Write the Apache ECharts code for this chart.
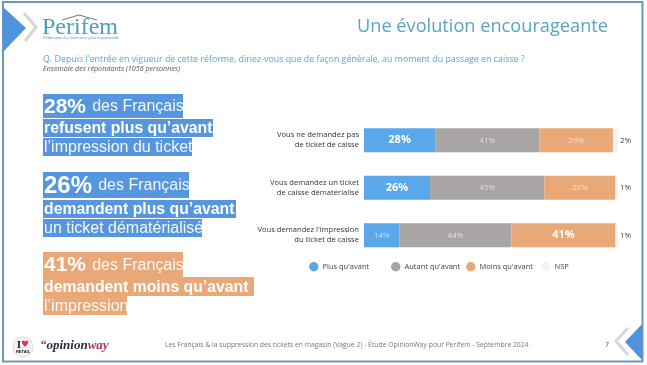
<!DOCTYPE html>
<html>
<head>
<meta charset="utf-8">
<style>
  html, body { margin: 0; padding: 0; background: #fff; }
  #chart { width: 647px; height: 365px; }
</style>
<script src="https://cdn.jsdelivr.net/npm/echarts@6/dist/echarts.min.js"></script>
</head>
<body>
<div id="chart"></div>
<script>
const categories = [
    'Vous ne demandez pas\nde ticket de caisse',
    'Vous demandez un ticket\nde caisse dématérialisé',
    "Vous demandez l'impression\ndu ticket de caisse"
];
const seriesNames = ["Plus qu'avant", "Autant qu'avant", "Moins qu'avant", 'NSP'];
const plusValues = [28, 26, 14];
const autantValues = [41, 45, 44];
const moinsValues = [29, 28, 41];
const nspValues = [2, 1, 1];
const highlighted = { "Plus qu'avant": [true, true, false], "Moins qu'avant": [false, false, true] };

const titleText = 'Une évolution encourageante';
const questionText = "Q. Depuis l'entrée en vigueur de cette réforme, diriez-vous que de façon générale, au moment du passage en caisse ?";
const baseText = 'Ensemble des répondants (1056 personnes)';
const footerText = 'Les Français & la suppression des tickets en magasin (Vague 2) - Étude OpinionWay pour Perifem - Septembre 2024';

const BLUE = '#5aa7ea';
const BLOCK_BLUE = '#5596de';
const GREY = '#a9a5a5';
const ORANGE = '#e9a877';
const NSP = '#f3f3f3';
const FONT = '"Open Sans", sans-serif';
const ARIAL = '"Liberation Sans", sans-serif';
const SERIF = '"Liberation Serif", serif';

const barData = (name, values, color) => values.map((v, i) => {
    const strong = highlighted[name] && highlighted[name][i];
    return {
        value: v,
        itemStyle: { color: color },
        label: strong
            ? { fontSize: 11, fontWeight: 'bold', color: '#fff' }
            : { fontSize: 8, color: 'rgba(255,255,255,0.65)' }
    };
});

const makeBar = (name, values, color) => ({
    name: name,
    type: 'bar',
    stack: 'total',
    barWidth: 24,
    itemStyle: { color: color },
    label: { show: true, position: 'inside', formatter: '{c}%', fontFamily: FONT },
    data: barData(name, values, color)
});

const nspSeries = {
    name: seriesNames[3],
    type: 'bar',
    stack: 'total',
    barWidth: 24,
    itemStyle: { color: NSP },
    label: {
        show: true, position: 'right', distance: 2, formatter: '{c}%',
        fontFamily: FONT, fontSize: 8, color: '#444'
    },
    data: nspValues
};

const makeLegend = (name, left) => ({
    data: [name],
    left: left,
    top: 262,
    padding: 0,
    icon: 'circle',
    itemWidth: 9.5,
    itemHeight: 9.5,
    itemGap: 0,
    selectedMode: false,
    textStyle: { fontFamily: FONT, fontSize: 7.5, color: '#444', padding: [0, 0, 0, -1] }
});

// left call-outs: one text element per highlighted line
const callout = (x, y, w, h, color, text, rich) => ({
    type: 'group',
    children: [
        { type: 'rect', shape: { x: x, y: y, width: w, height: h }, style: { fill: color } },
        {
            type: 'text',
            style: {
                x: x + 1, y: y + h / 2 + 1, text: text, rich: rich,
                verticalAlign: 'middle', fill: '#fff', fontFamily: ARIAL, fontSize: 15
            }
        }
    ]
});

const headRich = (size) => ({
    big: { fontFamily: ARIAL, fontSize: size, fontWeight: 'bold', fill: '#fff', color: '#fff' },
    small: { fontFamily: ARIAL, fontSize: 16, fill: 'rgba(255,255,255,0.92)', padding: [0, 0, 0, 2] }
});
const boldStyle = { b: { fontFamily: ARIAL, fontSize: 15.8, fontWeight: 'bold', fill: '#fff' } };
const normalStyle = { n: { fontFamily: ARIAL, fontSize: 16, fill: 'rgba(255,255,255,0.92)' } };

const chart = echarts.init(document.getElementById('chart'), null, { renderer: 'canvas' });
chart.setOption({
    animation: false,
    backgroundColor: '#fff',
    grid: { left: 364, top: 116.5, width: 254, height: 142.5 },
    xAxis: { type: 'value', min: 0, max: 100, show: false },
    yAxis: {
        type: 'category',
        inverse: true,
        data: categories,
        axisLine: { show: false },
        axisTick: { show: false },
        axisLabel: { fontFamily: FONT, fontSize: 7.6, color: '#333', align: 'right', margin: 5, lineHeight: 10 }
    },
    legend: [
        makeLegend(seriesNames[0], 309),
        makeLegend(seriesNames[1], 391),
        makeLegend(seriesNames[2], 466),
        makeLegend(seriesNames[3], 541)
    ],
    series: [
        makeBar(seriesNames[0], plusValues, BLUE),
        makeBar(seriesNames[1], autantValues, GREY),
        makeBar(seriesNames[2], moinsValues, ORANGE),
        nspSeries
    ],
    graphic: [
        // frame
        { type: 'rect', shape: { x: 3, y: 2, width: 639.5, height: 359.5 }, style: { fill: 'none', stroke: '#6a98ba', lineWidth: 2 }, z: -1 },
        // corner arrows
        { type: 'polygon', shape: { points: [[3, 7], [26, 28], [3, 52]] }, style: { fill: '#4f93dd' } },
        { type: 'polyline', shape: { points: [[24, 13], [36, 27], [25, 41]] }, style: { stroke: '#d8d6d3', lineWidth: 3, fill: 'none' } },
        { type: 'polygon', shape: { points: [[642, 324], [625, 342], [642, 360]] }, style: { fill: '#4f93dd' } },
        { type: 'polyline', shape: { points: [[628, 328], [616, 341], [628, 355]] }, style: { stroke: '#d8d6d3', lineWidth: 3, fill: 'none' } },
        // logos
        { type: 'text', style: { x: 42, y: 16, text: 'Perifem', fontFamily: SERIF, fontSize: 24, fill: '#4e9fb5' } },
        { type: 'polyline', shape: { points: [[62, 20], [79, 15], [97, 20]] }, style: { stroke: '#777', lineWidth: 1, fill: 'none' } },
        { type: 'text', style: { x: 43, y: 36, text: 'Fédération du commerce plus responsable', fontFamily: ARIAL, fontSize: 4, fill: '#5aa5bd' } },
        { type: 'circle', shape: { cx: 23, cy: 347, r: 10 }, style: { fill: '#f3f3f3', stroke: '#ddd' } },
        {
            type: 'text',
            style: {
                x: 23, y: 347, text: '{i|I}{h|♥}\n{r|RETAIL}', align: 'center', verticalAlign: 'middle',
                rich: {
                    i: { fontFamily: SERIF, fontSize: 10, fontWeight: 'bold', fill: '#111' },
                    h: { fontFamily: '"DejaVu Sans"', fontSize: 9, fill: '#d8336f' },
                    r: { fontFamily: ARIAL, fontSize: 4, fontWeight: 'bold', fill: '#222' }
                }
            }
        },
        {
            type: 'text',
            style: {
                x: 40, y: 346, text: '{q|“}{o|opinion}{w|way}', verticalAlign: 'middle',
                rich: {
                    q: { fontFamily: SERIF, fontStyle: 'italic', fontWeight: 'bold', fontSize: 13, fill: '#b5304a' },
                    o: { fontFamily: SERIF, fontStyle: 'italic', fontWeight: 'bold', fontSize: 13, fill: '#2b2b3a' },
                    w: { fontFamily: SERIF, fontStyle: 'italic', fontWeight: 'bold', fontSize: 13, fill: '#b5304a' }
                }
            }
        },
        // titles
        { type: 'text', style: { x: 608, y: 27, text: titleText, align: 'right', verticalAlign: 'middle', fontFamily: FONT, fontSize: 18.2, fill: '#5ba3c4' } },
        { type: 'text', style: { x: 43, y: 59, text: questionText, verticalAlign: 'middle', fontFamily: FONT, fontSize: 8.85, fill: '#5aa9c9' } },
        { type: 'text', style: { x: 43, y: 69, text: baseText, verticalAlign: 'middle', fontFamily: FONT, fontStyle: 'italic', fontSize: 7.15, fill: '#555' } },
        // call-outs
        callout(43, 94, 140, 24, BLOCK_BLUE, '{big|28%} {small|des Français}', headRich(21)),
        callout(43, 119, 170, 18, BLOCK_BLUE, '{b|refusent plus qu’avant}', boldStyle),
        callout(43, 138, 149, 18, BLOCK_BLUE, '{n|l’impression du ticket}', normalStyle),
        callout(43, 172, 146, 26, BLOCK_BLUE, '{big|26%} {small|des Français}', headRich(24)),
        callout(43, 200, 193, 18, BLOCK_BLUE, '{b|demandent plus qu’avant}', boldStyle),
        callout(43, 219, 159, 18, BLOCK_BLUE, '{n|un ticket dématérialisé}', normalStyle),
        callout(43, 252, 140, 25, ORANGE, '{big|41%} {small|des Français}', headRich(21)),
        callout(43, 277, 211, 19, ORANGE, '{b|demandent moins qu’avant}', boldStyle),
        callout(43, 296, 84, 19, ORANGE, '{n|l’impression}', normalStyle),
        // footer
        { type: 'text', style: { x: 165, y: 345, text: footerText, verticalAlign: 'middle', fontFamily: FONT, fontSize: 6.8, fill: '#777' } },
        { type: 'text', style: { x: 607, y: 345, text: '7', align: 'center', verticalAlign: 'middle', fontFamily: FONT, fontSize: 7, fill: '#555' } }
    ]
});
</script>
</body>
</html>
